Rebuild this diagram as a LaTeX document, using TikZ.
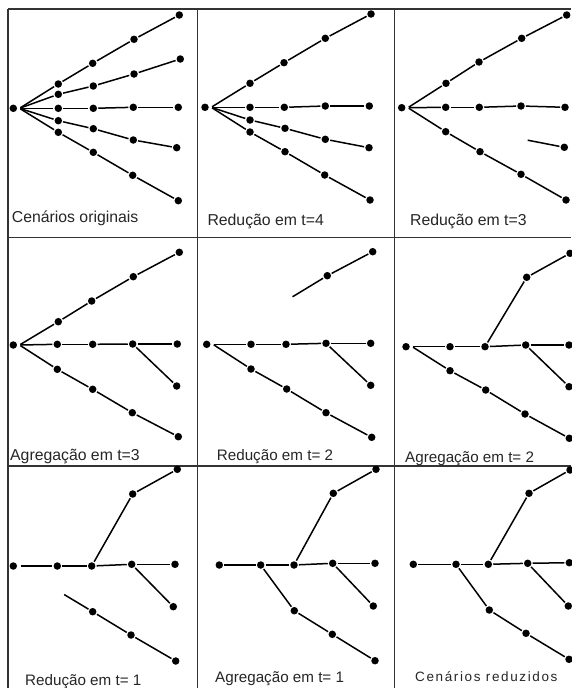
\documentclass[tikz,border=0pt]{standalone}
\usepackage{fontspec}
\setmainfont{Liberation Sans}
\newfontfamily\spacedfont[LetterSpace=12]{Liberation Sans}
\begin{document}
\begin{tikzpicture}[x=1pt,y=-1pt,
  dot/.style={circle,fill=black,inner sep=0pt,minimum size=7.5pt},
  ln/.style={line width=1.5pt,black,shorten >=1pt,shorten <=1pt},
  grid/.style={line width=1.8pt,black!80},
  lbl/.style={anchor=base west,inner sep=0pt,text=black!85,font=\fontsize{15.8}{18}\selectfont},
  lbls/.style={anchor=base west,inner sep=0pt,text=black!85,font=\fontsize{15.2}{18}\selectfont}]
\useasboundingbox (0,0) rectangle (571,688);
\fill[white] (0,0) rectangle (571,688);
% grid
\draw[grid] (8,9) -- (571,9);
\draw[grid] (8,237.5) -- (571,237.5);
\draw[grid] (8,466) -- (571,466);
\draw[grid] (8,9) -- (8,688);
\draw[grid] (197.5,9) -- (197.5,688);
\draw[grid] (394.5,9) -- (394.5,688);

% ---------- Panel A: Cenarios originais
\node[dot] (A0) at (13.3,108.3) {};
\coordinate (As) at (19.5,108.3);
\node[dot] (A11) at (58.3,84) {};
\node[dot] (A12) at (92.7,63.3) {};
\node[dot] (A13) at (134,39.3) {};
\node[dot] (A14) at (179.3,15) {};
\node[dot] (A21) at (58.3,94.3) {};
\node[dot] (A22) at (93.3,86) {};
\node[dot] (A23) at (134,74) {};
\node[dot] (A24) at (180.3,59) {};
\node[dot] (A31) at (58.3,108.3) {};
\node[dot] (A32) at (93.3,108.3) {};
\node[dot] (A33) at (133.3,107.3) {};
\node[dot] (A34) at (178.3,107.3) {};
\node[dot] (A41) at (58.3,120.7) {};
\node[dot] (A42) at (93.3,128.7) {};
\node[dot] (A43) at (133.3,140) {};
\node[dot] (A44) at (176.7,147.7) {};
\node[dot] (A51) at (58.3,132.3) {};
\node[dot] (A52) at (93.3,152.3) {};
\node[dot] (A53) at (132.7,175.3) {};
\node[dot] (A54) at (178.3,200.7) {};
\draw[ln] (As) -- (A11); \draw[ln] (A11) -- (A12); \draw[ln] (A12) -- (A13); \draw[ln] (A13) -- (A14);
\draw[ln] (As) -- (A21); \draw[ln] (A21) -- (A22); \draw[ln] (A22) -- (A23); \draw[ln] (A23) -- (A24);
\draw[ln] (As) -- (A31); \draw[ln] (A31) -- (A32); \draw[ln] (A32) -- (A33); \draw[ln] (A33) -- (A34);
\draw[ln] (As) -- (A41); \draw[ln] (A41) -- (A42); \draw[ln] (A42) -- (A43); \draw[ln] (A43) -- (A44);
\draw[ln] (As) -- (A51); \draw[ln] (A51) -- (A52); \draw[ln] (A52) -- (A53); \draw[ln] (A53) -- (A54);
\node[lbl] (LA) at (11.7,222) {Cenários originais};

% ---------- Panel B: Reducao em t=4
\node[dot] (B0) at (205,107.3) {};
\coordinate (Bs) at (211.2,107.3);
\node[dot] (B11) at (250,83.3) {};
\node[dot] (B12) at (284,62.7) {};
\node[dot] (B13) at (325.3,38.3) {};
\node[dot] (B14) at (371,14) {};
\node[dot] (B31) at (250,107.3) {};
\node[dot] (B32) at (284.3,107.3) {};
\node[dot] (B33) at (325.3,106) {};
\node[dot] (B34) at (369.3,106) {};
\node[dot] (B41) at (250,120) {};
\node[dot] (B42) at (285,128.3) {};
\node[dot] (B43) at (325.3,139.3) {};
\node[dot] (B44) at (369,147.7) {};
\node[dot] (B51) at (250,132) {};
\node[dot] (B52) at (285,151.7) {};
\node[dot] (B53) at (324.7,175) {};
\node[dot] (B54) at (370,200) {};
\draw[ln] (Bs) -- (B11); \draw[ln] (B11) -- (B12); \draw[ln] (B12) -- (B13); \draw[ln] (B13) -- (B14);
\draw[ln] (Bs) -- (B31); \draw[ln] (B31) -- (B32); \draw[ln] (B32) -- (B33); \draw[ln] (B33) -- (B34);
\draw[ln] (Bs) -- (B41); \draw[ln] (B41) -- (B42); \draw[ln] (B42) -- (B43); \draw[ln] (B43) -- (B44);
\draw[ln] (Bs) -- (B51); \draw[ln] (B51) -- (B52); \draw[ln] (B52) -- (B53); \draw[ln] (B53) -- (B54);
\node[lbl] (LB) at (207.3,225) {Redução em t=4};

% ---------- Panel C: Reducao em t=3
\node[dot] (C0) at (401.7,107.7) {};
\coordinate (Cs) at (407.9,107.7);
\node[dot] (C11) at (446,83.3) {};
\node[dot] (C12) at (479,62) {};
\node[dot] (C13) at (521.7,38.3) {};
\node[dot] (C14) at (566.7,15) {};
\node[dot] (C31) at (445.7,107.3) {};
\node[dot] (C32) at (479.3,107.3) {};
\node[dot] (C33) at (521,106) {};
\node[dot] (C34) at (565,107.3) {};
\node[dot] (C51) at (445.7,131.7) {};
\node[dot] (C52) at (480,151.7) {};
\node[dot] (C53) at (521,174.3) {};
\node[dot] (C54) at (566,200) {};
\coordinate (Cf) at (526.7,140);
\node[dot] (C44) at (564.3,147.3) {};
\draw[ln] (Cs) -- (C11); \draw[ln] (C11) -- (C12); \draw[ln] (C12) -- (C13); \draw[ln] (C13) -- (C14);
\draw[ln] (Cs) -- (C31); \draw[ln] (C31) -- (C32); \draw[ln] (C32) -- (C33); \draw[ln] (C33) -- (C34);
\draw[ln] (Cs) -- (C51); \draw[ln] (C51) -- (C52); \draw[ln] (C52) -- (C53); \draw[ln] (C53) -- (C54);
\draw[ln] (Cf) -- (C44);
\node[lbl] (LC) at (410,225) {Redução em t=3};

% ---------- Panel D: Agregacao em t=3
\node[dot] (D0) at (13.3,345) {};
\coordinate (Ds) at (19.5,345);
\node[dot] (D11) at (58.3,321.7) {};
\node[dot] (D12) at (91.7,301) {};
\node[dot] (D13) at (133.3,276.7) {};
\node[dot] (D14) at (179.3,252.3) {};
\node[dot] (D31) at (57.3,344.3) {};
\node[dot] (D32) at (92.7,344.3) {};
\node[dot] (D33) at (132.7,344) {};
\node[dot] (D34) at (177.3,344) {};
\node[dot] (D44) at (176.7,386) {};
\node[dot] (D51) at (57.3,369.3) {};
\node[dot] (D52) at (92.7,389.3) {};
\node[dot] (D53) at (132.3,412.7) {};
\node[dot] (D54) at (178.3,436.7) {};
\draw[ln] (Ds) -- (D11); \draw[ln] (D11) -- (D12); \draw[ln] (D12) -- (D13); \draw[ln] (D13) -- (D14);
\draw[ln] (Ds) -- (D31); \draw[ln] (D31) -- (D32); \draw[ln] (D32) -- (D33); \draw[ln] (D33) -- (D34);
\draw[ln] (D33) -- (D44);
\draw[ln] (Ds) -- (D51); \draw[ln] (D51) -- (D52); \draw[ln] (D52) -- (D53); \draw[ln] (D53) -- (D54);
\node[lbl] (LD) at (10,460) {Agregação em t=3};

% ---------- Panel E: Reducao em t=2
\node[dot] (E0) at (206.7,344.3) {};
\coordinate (Es) at (212.9,344.3);
\coordinate (Ef) at (291.7,297.3);
\node[dot] (E13) at (327.3,275.7) {};
\node[dot] (E14) at (372.7,251.7) {};
\node[dot] (E31) at (251,344.3) {};
\node[dot] (E32) at (286,344.3) {};
\node[dot] (E33) at (326,343.3) {};
\node[dot] (E34) at (370.7,343.3) {};
\node[dot] (E44) at (370.7,385.3) {};
\node[dot] (E51) at (251,369) {};
\node[dot] (E52) at (286.7,389) {};
\node[dot] (E53) at (326,412.7) {};
\node[dot] (E54) at (371.7,437.3) {};
\draw[ln] (Ef) -- (E13); \draw[ln] (E13) -- (E14);
\draw[ln] (Es) -- (E31); \draw[ln] (E31) -- (E32); \draw[ln] (E32) -- (E33); \draw[ln] (E33) -- (E34);
\draw[ln] (E33) -- (E44);
\draw[ln] (Es) -- (E51); \draw[ln] (E51) -- (E52); \draw[ln] (E52) -- (E53); \draw[ln] (E53) -- (E54);
\node[lbls] (LE) at (216.7,460.7) {Redução em t= 2};

% ---------- Panel F: Agregacao em t=2
\node[dot] (F0) at (406,346.7) {};
\coordinate (Fs) at (412.2,346.7);
\node[dot] (F31) at (450,346.7) {};
\node[dot] (F32) at (485,346.7) {};
\node[dot] (F33) at (525.7,345) {};
\node[dot] (F34) at (569,345) {};
\node[dot] (F13) at (526.7,277.3) {};
\node[dot] (F14) at (570,253.3) {};
\node[dot] (F44) at (569,386.7) {};
\node[dot] (F51) at (450,370.7) {};
\node[dot] (F52) at (485.7,390) {};
\node[dot] (F53) at (525,414) {};
\node[dot] (F54) at (569.3,438.3) {};
\draw[ln] (Fs) -- (F31); \draw[ln] (F31) -- (F32); \draw[ln] (F32) -- (F33); \draw[ln] (F33) -- (F34);
\draw[ln] (F32) -- (F13); \draw[ln] (F13) -- (F14);
\draw[ln] (F33) -- (F44);
\draw[ln] (Fs) -- (F51); \draw[ln] (F51) -- (F52); \draw[ln] (F52) -- (F53); \draw[ln] (F53) -- (F54);
\node[lbls] (LF) at (405,462) {Agregação em t= 2};

% ---------- Panel G: Reducao em t=1
\node[dot] (G0) at (13.3,566) {};
\coordinate (Gs) at (19.5,566);
\node[dot] (G31) at (57.3,566) {};
\node[dot] (G32) at (91.7,566) {};
\node[dot] (G33) at (131.7,564.3) {};
\node[dot] (G34) at (175,564.3) {};
\node[dot] (G13) at (132.7,494) {};
\node[dot] (G14) at (177.3,469.3) {};
\node[dot] (G44) at (173.3,606.7) {};
\coordinate (Gf) at (63.3,594);
\node[dot] (G52) at (92.7,611.7) {};
\node[dot] (G53) at (131,635) {};
\node[dot] (G54) at (175.7,661) {};
\draw[ln] (Gs) -- (G31); \draw[ln] (G31) -- (G32); \draw[ln] (G32) -- (G33); \draw[ln] (G33) -- (G34);
\draw[ln] (G32) -- (G13); \draw[ln] (G13) -- (G14);
\draw[ln] (G33) -- (G44);
\draw[ln] (Gf) -- (G52); \draw[ln] (G52) -- (G53); \draw[ln] (G53) -- (G54);
\node[lbls] (LG) at (25,685) {Redução em t= 1};

% ---------- Panel H: Agregacao em t=1
\node[dot] (H0) at (219.3,565) {};
\node[dot] (H31) at (260.7,565) {};
\node[dot] (H32) at (294,565) {};
\node[dot] (H33) at (332.7,563.3) {};
\node[dot] (H34) at (375,563.3) {};
\node[dot] (H13) at (333.3,493.3) {};
\node[dot] (H14) at (376,469.3) {};
\node[dot] (H44) at (373.3,606) {};
\node[dot] (H52) at (294.3,610.7) {};
\node[dot] (H53) at (332.3,634.3) {};
\node[dot] (H54) at (375,660.7) {};
\draw[ln] (H0) -- (H31); \draw[ln] (H31) -- (H32); \draw[ln] (H32) -- (H33); \draw[ln] (H33) -- (H34);
\draw[ln] (H32) -- (H13); \draw[ln] (H13) -- (H14);
\draw[ln] (H33) -- (H44);
\draw[ln] (H31) -- (H52); \draw[ln] (H52) -- (H53); \draw[ln] (H53) -- (H54);
\node[lbls] (LH) at (215,682) {Agregação em t= 1};

% ---------- Panel I: Cenarios reduzidos
\node[dot] (I0) at (413.3,564.3) {};
\node[dot] (I31) at (456,564.3) {};
\node[dot] (I32) at (488.3,564.3) {};
\node[dot] (I33) at (527.7,563.3) {};
\node[dot] (I34) at (569.3,562.7) {};
\node[dot] (I13) at (529,493.3) {};
\node[dot] (I14) at (570,470) {};
\node[dot] (I44) at (568.3,606) {};
\node[dot] (I52) at (489.3,610) {};
\node[dot] (I53) at (526,633.3) {};
\node[dot] (I54) at (569,659.3) {};
\draw[ln] (I0) -- (I31); \draw[ln] (I31) -- (I32); \draw[ln] (I32) -- (I33); \draw[ln] (I33) -- (I34);
\draw[ln] (I32) -- (I13); \draw[ln] (I13) -- (I14);
\draw[ln] (I33) -- (I44);
\draw[ln] (I31) -- (I52); \draw[ln] (I52) -- (I53); \draw[ln] (I53) -- (I54);
\node[anchor=base west,inner sep=0pt,text=black!85,font=\spacedfont\fontsize{13.5}{15}\selectfont] (LI) at (415,681.7) {Cenários reduzidos};
\end{tikzpicture}
\end{document}
